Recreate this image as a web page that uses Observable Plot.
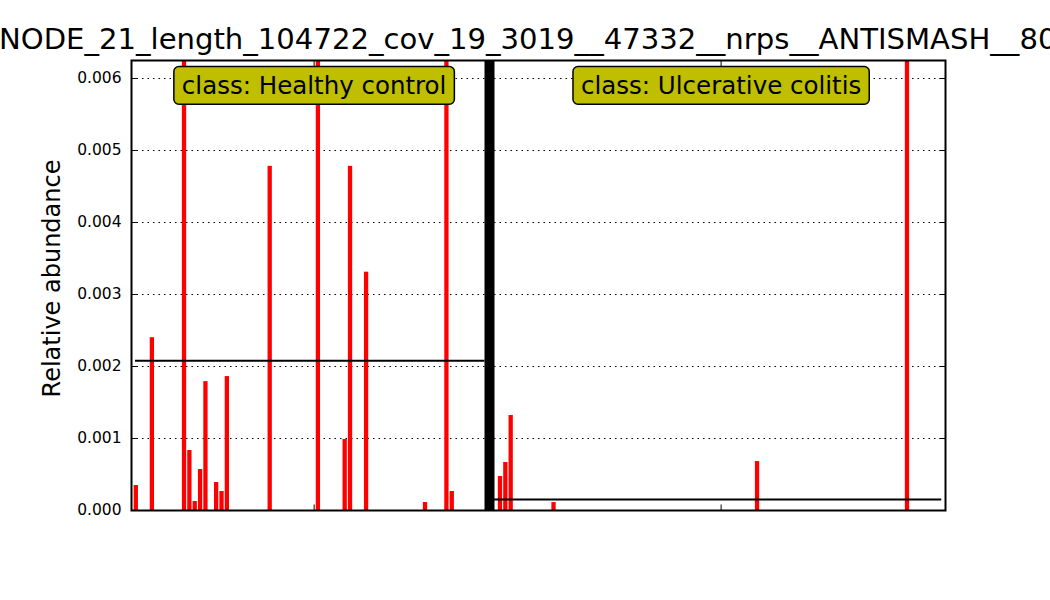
<!DOCTYPE html>
<html>
<head>
<meta charset="utf-8">
<script src="https://cdn.jsdelivr.net/npm/d3@7"></script>
<script src="https://cdn.jsdelivr.net/npm/@observablehq/plot@0.6"></script>
<style>
  html, body { margin: 0; padding: 0; background: #fff; overflow: hidden; }
  #wrap { position: relative; width: 1050px; height: 600px; overflow: hidden; font-family: "DejaVu Sans", sans-serif; }
  #title { position: absolute; left: -1px; top: 24.5px; white-space: nowrap; font-size: 29.1px; line-height: 1; color: #000; font-family: "DejaVu Sans", sans-serif; }
</style>
</head>
<body>
<div id="wrap">
  <div id="chart"></div>
  <div id="title"></div>
</div>
<script>
// ---- data ----
const title = "NODE_21_length_104722_cov_19_3019__47332__nrps__ANTISMASH__80";
const yLabel = "Relative abundance";
const classNames = ["class: Healthy control", "class: Ulcerative colitis"];
const classCenters = [33.6, 109.6];         // sample-index centre of each class block
const classBoundary = 66.35;                // separator between classes (sample index)
const meanStart = [0.25, 67.3];
const meanEnd = [65.5, 150.8];
const classMeans = [0.00208, 0.000153];

// non-zero samples (index, relative abundance)
const healthyIdx = [0, 3, 9, 10, 11, 12, 13, 15, 16, 17, 25, 34, 39, 40, 43, 54, 58, 59];
const healthyVal = [0.000347, 0.0024, 0.038, 0.000833, 0.000125, 0.000569, 0.00179, 0.000389, 0.000264, 0.00186,
                    0.00478, 0.042, 0.000986, 0.00478, 0.00331, 0.000111, 0.034, 0.000264];
const ucIdx = [68, 69, 70, 78, 116, 144];
const ucVal = [0.000472, 0.000667, 0.00132, 0.000111, 0.00068, 0.0096];

const yTicks = [0, 0.001, 0.002, 0.003, 0.004, 0.005, 0.006];
const xDomain = [-0.5, 151.5];
const yDomain = [0, 0.00625];
const labelY = 0.0058958;

// ---- build tables ----
const bars = [
  ...healthyIdx.map((i, k) => ({i, v: healthyVal[k]})),
  ...ucIdx.map((i, k) => ({i, v: ucVal[k]}))
];
const means = classMeans.map((v, k) => ({v, x1: meanStart[k], x2: meanEnd[k]}));
const labels = classNames.map((t, k) => ({t, x: classCenters[k], y: labelY}));

const tickLen = 6;
const symRight = {draw(c) { c.moveTo(0, 0); c.lineTo(tickLen, 0); }};
const symLeft  = {draw(c) { c.moveTo(0, 0); c.lineTo(-tickLen, 0); }};
const symUp    = {draw(c) { c.moveTo(0, 0); c.lineTo(0, -tickLen); }};
const symDown  = {draw(c) { c.moveTo(0, 0); c.lineTo(0, tickLen); }};

const chart = Plot.plot({
  width: 1050,
  height: 600,
  marginLeft: 131,
  marginRight: 105,
  marginTop: 60,
  marginBottom: 90,
  style: {fontFamily: "DejaVu Sans, sans-serif", background: "white", color: "black"},
  x: {type: "linear", domain: xDomain, axis: null},
  y: {type: "linear", domain: yDomain, axis: null},
  marks: [
    Plot.ruleY(yTicks.filter(d => d > 0), {stroke: "black", strokeWidth: 1, strokeDasharray: "1.5,4"}),
    Plot.rect(bars, {x1: "i", x2: d => d.i + 0.8, y1: 0, y2: "v", fill: "#ff0000", clip: true}),
    Plot.ruleY(means, {y: "v", x1: "x1", x2: "x2", stroke: "black", strokeWidth: 1.8}),
    Plot.ruleX([classBoundary], {stroke: "black", strokeWidth: 10}),
    // ticks
    Plot.dot(yTicks, {x: xDomain[0], y: d => d, symbol: symRight, fill: "none", stroke: "black", strokeWidth: 1}),
    Plot.dot(yTicks, {x: xDomain[1], y: d => d, symbol: symLeft, fill: "none", stroke: "black", strokeWidth: 1}),
    Plot.dot(classCenters, {x: d => d, y: yDomain[0], symbol: symUp, fill: "none", stroke: "black", strokeWidth: 1}),
    Plot.dot(classCenters, {x: d => d, y: yDomain[1], symbol: symDown, fill: "none", stroke: "black", strokeWidth: 1}),
    Plot.frame({stroke: "black", strokeWidth: 2}),
    Plot.text(yTicks, {x: xDomain[0], y: d => d, text: d => d.toFixed(3), textAnchor: "end", dx: -10, fontSize: 15.5, fill: "black"}),
    Plot.text([yLabel], {frameAnchor: "left", text: d => d, rotate: -90, textAnchor: "middle", dx: -79, dy: -7, fontSize: 24, fill: "black"}),
    Plot.text(labels, {x: "x", y: "y", text: "t", textAnchor: "middle", fontSize: 24.5, fill: "black"})
  ]
});

document.getElementById("chart").appendChild(chart);
document.getElementById("title").textContent = title;

// rounded boxes behind the class labels
const svg = chart.tagName.toLowerCase() === "svg" ? chart : chart.querySelector("svg");
const ns = "http://www.w3.org/2000/svg";
const labelTexts = Array.from(svg.querySelectorAll("text")).filter(t => classNames.includes(t.textContent));
for (const t of labelTexts) {
  const b = t.getBBox();
  const r = document.createElementNS(ns, "rect");
  r.setAttribute("x", b.x - 8);
  r.setAttribute("y", b.y - 4.3);
  r.setAttribute("width", b.width + 16);
  r.setAttribute("height", b.height + 8.6);
  r.setAttribute("rx", 5);
  r.setAttribute("ry", 5);
  r.setAttribute("fill", "#bfbf00");
  r.setAttribute("stroke", "black");
  r.setAttribute("stroke-width", 1.5);
  const tr = t.getAttribute("transform");
  if (tr) r.setAttribute("transform", tr);
  t.parentNode.insertBefore(r, t);
}
</script>
</body>
</html>
